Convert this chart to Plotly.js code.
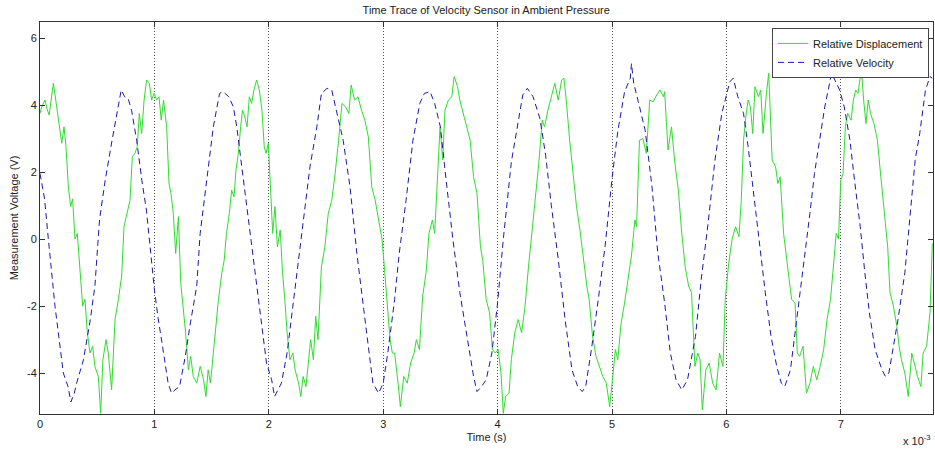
<!DOCTYPE html>
<html>
<head>
<meta charset="utf-8">
<script src="https://cdn.plot.ly/plotly-3.0.1.min.js"></script>
<style>html,body{margin:0;padding:0;background:#fff;}#chart{width:935px;height:449px;}</style>
</head>
<body>
<div id="chart"></div>
<script>
// Time in units of 1e-3 s (axis shows "x 10^-3")
const dispTime = [0,0.015,0.044,0.06,0.08,0.117,0.146,0.175,0.19,0.21,0.227,0.248,0.268,0.285,0.306,0.326,0.35,0.373,0.393,0.414,0.437,0.46,0.48,0.51,0.53,0.55,0.577,0.597,0.626,0.656,0.685,0.714,0.734,0.758,0.787,0.807,0.83,0.85,0.868,0.889,0.91,0.932,0.956,0.976,0.997,1.02,1.04,1.06,1.08,1.107,1.128,1.145,1.165,1.186,1.21,1.23,1.253,1.273,1.297,1.317,1.34,1.37,1.4,1.43,1.45,1.47,1.49,1.53,1.56,1.59,1.61,1.63,1.655,1.675,1.696,1.713,1.734,1.754,1.77,1.79,1.81,1.83,1.85,1.87,1.894,1.917,1.94,1.96,1.976,1.996,2.016,2.034,2.054,2.075,2.1,2.12,2.14,2.16,2.185,2.21,2.23,2.26,2.28,2.3,2.325,2.345,2.366,2.39,2.41,2.43,2.46,2.49,2.52,2.55,2.58,2.61,2.64,2.67,2.7,2.72,2.75,2.78,2.81,2.84,2.87,2.9,2.93,2.96,2.99,3.01,3.03,3.06,3.08,3.1,3.13,3.15,3.18,3.21,3.24,3.27,3.29,3.317,3.345,3.375,3.4,3.43,3.45,3.47,3.497,3.52,3.54,3.57,3.6,3.62,3.65,3.67,3.7,3.73,3.76,3.79,3.82,3.85,3.87,3.9,3.93,3.955,3.98,4.005,4.03,4.05,4.07,4.1,4.12,4.15,4.18,4.21,4.24,4.27,4.3,4.33,4.36,4.39,4.41,4.44,4.47,4.5,4.53,4.56,4.58,4.6,4.63,4.66,4.69,4.72,4.75,4.78,4.8,4.83,4.86,4.89,4.92,4.95,4.98,5.01,5.03,5.05,5.08,5.11,5.14,5.17,5.2,5.215,5.24,5.27,5.3,5.33,5.36,5.39,5.42,5.45,5.46,5.49,5.52,5.55,5.58,5.61,5.64,5.67,5.695,5.725,5.75,5.77,5.79,5.82,5.85,5.88,5.91,5.94,5.97,5.99,6.02,6.05,6.08,6.11,6.13,6.15,6.17,6.19,6.21,6.23,6.25,6.28,6.3,6.32,6.35,6.37,6.4,6.43,6.45,6.47,6.5,6.53,6.55,6.57,6.6,6.62,6.64,6.67,6.7,6.73,6.76,6.79,6.82,6.85,6.88,6.91,6.94,6.96,6.98,7.0,7.02,7.04,7.06,7.09,7.11,7.13,7.15,7.18,7.2,7.22,7.24,7.26,7.29,7.32,7.35,7.38,7.41,7.43,7.46,7.49,7.51,7.53,7.56,7.59,7.62,7.65,7.67,7.7,7.72,7.75,7.78,7.8];
const dispVolt = [3.75,3.95,4.15,3.9,3.7,4.65,3.95,3.25,2.86,3.35,2.76,1.56,0.97,1.2,0,0.17,-1.1,-2.0,-1.8,-2.8,-3.4,-3.2,-3.8,-4.1,-5.2,-3.6,-3.0,-3.4,-4.5,-2.4,-1.8,-1.1,0.37,0.77,1.16,2.46,2.56,2.76,3.75,3.15,4.15,4.75,4.65,4.15,4.35,4.15,4.25,3.55,4.15,3.35,1.66,1.36,0.77,-0.43,0.67,-1.3,-2.1,-2.8,-3.9,-3.5,-4.1,-4.3,-3.8,-4.2,-4.7,-3.9,-4.3,-2.8,-1.8,-1.0,-0.63,0.17,0.77,1.46,1.26,2.06,2.56,3.35,3.85,3.65,3.35,4.25,4.05,4.45,4.75,4.45,3.85,2.76,2.56,2.86,1.36,0.17,0.97,-0.23,0.27,-1.0,-1.8,-2.8,-3.6,-3.4,-3.9,-4.3,-4.7,-4.1,-4.4,-3.6,-3.0,-3.6,-2.3,-3.0,-0.83,-0.23,0.77,1.16,1.96,2.95,4.05,3.95,3.75,4.6,4.15,4.25,3.85,3.55,3.05,1.56,1.16,0.57,0,-0.83,-1.8,-3.0,-3.4,-3.4,-4.3,-5.0,-4.1,-4.3,-3.7,-3.4,-3.0,-3.3,-1.7,-1.0,0.17,0.57,0.17,1.56,3.35,2.36,3.85,4.15,4.25,4.85,4.55,4.15,3.75,3.35,2.95,1.86,1.36,-0.23,-0.63,-1.8,-2.2,-3.3,-3.4,-3.3,-4.0,-5.2,-4.7,-4.6,-3.6,-2.8,-2.4,-2.8,-2.0,-0.83,0.17,1.26,2.26,3.55,3.35,3.85,4.25,4.65,4.15,4.75,4.8,4.15,2.95,1.96,0.97,0.27,-0.63,-1.4,-1.8,-2.9,-3.5,-3.8,-4.1,-4.3,-5.0,-4.0,-3.3,-3.6,-2.5,-1.9,-1.2,-0.5,0.57,0.37,2.95,3.0,2.56,4.15,4.1,4.3,4.45,4.25,4.4,2.66,3.35,2.26,1.46,0.17,-0.83,-1.4,-1.6,-3.8,-3.4,-3.6,-5.1,-3.9,-3.7,-4.3,-4.5,-3.4,-3.8,-1.8,-0.73,0,0.37,0.07,1.16,2.95,3.65,4.15,3.95,3.15,4.55,4.25,4.45,3.15,4.35,4.95,2.36,2.16,1.66,1.86,0.17,-0.63,-1.1,-1.8,-1.9,-3.4,-3.5,-3.2,-4.6,-4.3,-3.8,-4.2,-3.8,-3.3,-2.4,-1.8,-0.63,0.17,0,1.76,1.96,3.35,3.75,3.55,4.15,4.45,4.35,5.05,4.15,3.45,4.15,3.75,3.45,2.95,1.86,0.77,-0.23,-1.6,-2.0,-2.6,-3.2,-3.6,-4.0,-4.7,-3.4,-3.8,-4.1,-4.4,-3.4,-3.2,-2.2,-0.13];

const velTime = [0,0.04,0.073,0.131,0.204,0.245,0.27,0.3,0.32,0.38,0.44,0.48,0.52,0.57,0.63,0.67,0.71,0.74,0.77,0.8,0.845,0.89,0.93,1.0,1.03,1.08,1.12,1.15,1.18,1.22,1.27,1.31,1.37,1.4,1.46,1.515,1.57,1.6,1.65,1.69,1.72,1.76,1.81,1.865,1.92,1.98,2.025,2.05,2.08,2.11,2.16,2.21,2.27,2.33,2.36,2.42,2.46,2.51,2.55,2.59,2.65,2.71,2.77,2.83,2.88,2.91,2.96,3.0,3.04,3.1,3.14,3.2,3.26,3.32,3.36,3.41,3.45,3.5,3.55,3.61,3.67,3.73,3.79,3.82,3.86,3.9,3.95,4.0,4.05,4.12,4.18,4.22,4.26,4.31,4.37,4.42,4.47,4.53,4.59,4.65,4.7,4.74,4.77,4.82,4.88,4.94,5.0,5.05,5.11,5.16,5.17,5.19,5.23,5.29,5.35,5.4,5.46,5.51,5.56,5.61,5.66,5.73,5.78,5.84,5.9,5.96,6.03,6.06,6.1,6.15,6.19,6.23,6.28,6.34,6.39,6.44,6.48,6.51,6.56,6.6,6.64,6.69,6.73,6.77,6.82,6.86,6.92,6.95,6.99,7.03,7.08,7.12,7.17,7.21,7.25,7.3,7.36,7.39,7.42,7.46,7.5,7.56,7.6,7.65,7.69,7.74,7.78,7.8];
const velVolt = [1.96,1.2,0,-2.0,-4.0,-4.4,-4.86,-4.6,-4.3,-3.6,-2.4,-1.4,0.57,1.76,2.95,3.65,4.45,4.25,4.2,3.85,2.95,1.76,0.87,-1.5,-2.3,-3.4,-4.3,-4.6,-4.5,-4.4,-3.5,-2.6,-1.4,0.17,1.76,3.35,4.35,4.4,4.25,3.95,3.35,2.26,0.97,-0.63,-2.1,-3.7,-4.2,-4.7,-4.5,-4.3,-3.4,-2.0,-0.43,1.2,2.16,3.35,4.35,4.5,4.45,3.85,2.95,1.56,-0.43,-2.1,-3.4,-4.3,-4.6,-4.3,-3.4,-1.8,-0.43,1.16,2.95,4.05,4.35,4.4,4.05,3.35,1.76,-0.03,-1.6,-2.8,-4.1,-4.55,-4.4,-4.2,-3.4,-1.9,0.0,2.3,3.5,4.3,4.5,4.25,3.6,2.5,1.0,-0.6,-2.4,-3.9,-4.4,-4.55,-4.4,-3.3,-1.8,-0.2,1.8,3.2,4.4,4.8,5.24,4.65,4.1,3.25,1.55,-0.4,-1.9,-3.4,-4.2,-4.5,-4.2,-2.9,-1.2,0.47,2.36,3.75,4.7,4.8,4.25,3.75,2.76,1.56,0,-1.6,-2.9,-3.8,-4.3,-4.4,-3.9,-2.8,-1.8,-0.43,0.77,1.96,3.05,3.95,4.95,4.75,4.45,3.95,2.95,1.76,0.37,-1.0,-2.2,-3.3,-3.9,-4.1,-4.0,-3.2,-2.4,-1.0,0.57,2.36,3.15,4.45,4.85,4.8];

const seriesNames = ["Relative Displacement", "Relative Velocity"];
const xTickVals = [0,1,2,3,4,5,6,7];
const yTickVals = [-4,-2,0,2,4,6];

const FONT = "Liberation Sans, Arial, Helvetica, sans-serif";

const traces = [
  {x: dispTime, y: dispVolt, type: "scatter", mode: "lines", name: seriesNames[0],
   line: {color: "#2fdc2f", width: 1}},
  {x: velTime, y: velVolt, type: "scatter", mode: "lines", name: seriesNames[1],
   line: {color: "#1a1aa8", width: 1, dash: "6px,4px"}}
];

const layout = {
  width: 935, height: 449,
  margin: {l: 40, r: 2, t: 22, b: 35},
  paper_bgcolor: "#fff", plot_bgcolor: "#fff",
  font: {family: FONT, size: 11, color: "#222"},
  title: {text: "Time Trace of Velocity Sensor in Ambient Pressure", x: 0.52, xanchor: "center", y: 0.985, yanchor: "top", font: {size: 11, color: "#222"}},
  xaxis: {
    range: [0, 7.806], tickvals: xTickVals, ticktext: xTickVals.map(String),
    ticks: "inside", ticklen: 5, tickcolor: "#333", showline: true, linecolor: "#333", linewidth: 1,
    mirror: "ticks", showgrid: true, gridcolor: "#555", gridwidth: 1, griddash: "1px,2px",
    zeroline: false, tickfont: {size: 11},
    title: {text: "Time (s)", standoff: 4, font: {size: 11}}
  },
  yaxis: {
    range: [-5.22, 6.48], tickvals: yTickVals, ticktext: yTickVals.map(String),
    ticks: "inside", ticklen: 5, tickcolor: "#333", showline: true, linecolor: "#333", linewidth: 1,
    mirror: "ticks", showgrid: false, zeroline: false, tickfont: {size: 11},
    title: {text: "Measurement Voltage (V)", standoff: 6, font: {size: 11}}
  },
  legend: {x: 0.9955, xanchor: "right", y: 0.985, yanchor: "top", bgcolor: "#fff",
    bordercolor: "#444", borderwidth: 1, font: {size: 11, color: "#222"}, tracegroupgap: 0,
    itemwidth: 30},
  annotations: [{text: "x 10<sup>-3</sup>", xref: "paper", yref: "paper", x: 1, xanchor: "right",
    y: -0.066, yanchor: "middle", showarrow: false, font: {size: 11, color: "#222"}}],
  showlegend: true
};

Plotly.newPlot("chart", traces, layout, {displayModeBar: false, staticPlot: true});
</script>
</body>
</html>
